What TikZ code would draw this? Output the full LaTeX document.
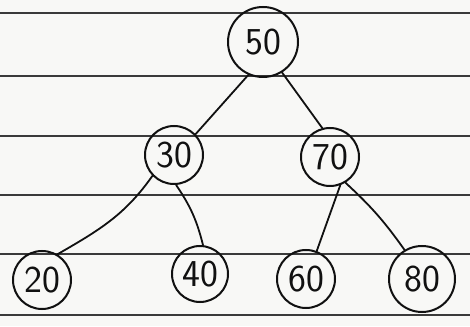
\documentclass[tikz,border=0pt]{standalone}
\usepackage{xcolor}
\definecolor{PaperWhite}{HTML}{F8F8F6}
\definecolor{RuleGray}{HTML}{3A3A3A}
\definecolor{InkBlack}{HTML}{111111}
\usepackage{tikz}
\usetikzlibrary{positioning,calc}

\begin{document}
\begin{tikzpicture}[x=1pt, y=1pt,
    treenode/.style={circle, draw=InkBlack, line width=2pt, inner sep=0pt,
      minimum size=58pt, font=\sffamily\fontsize{38}{38}\selectfont, text=InkBlack},
    treeedge/.style={draw=InkBlack, line width=1.8pt, line cap=round}]
    % Paper and ruled lines
    \fill[PaperWhite] (0,0) rectangle (470,326);
    \useasboundingbox (0,0) rectangle (470,326);
    \foreach \ry in {313,250,190,131,72,11} {
      \draw[RuleGray, line width=1.3pt] (0,\ry) -- (470,\ry);
    }

    % Tree nodes
    \node[treenode, minimum size=70pt] (n50) at (263,284) {50};
    \node[treenode] (n30) at (174,171) {30};
    \node[treenode] (n70) at (330,169) {70};
    \node[treenode] (n20) at (42,46) {20};
    \node[treenode, minimum size=56pt] (n40) at (200,52) {40};
    \node[treenode] (n60) at (306,47) {60};
    \node[treenode, minimum size=66pt] (n80) at (422,47) {80};

    % Edges
    \draw[treeedge] (n50.246) -- (n30.44);
    \draw[treeedge] (n50.302) -- (n70.105);
    \draw[treeedge] (n30.224) to[out=235, in=30] (n20.59);
    \draw[treeedge] (n30.274) to[bend left=10] (n40.84);
    \draw[treeedge] (n70.290) -- (n60.69);
    \draw[treeedge] (n70.301) to[bend left=6] (n80.121);
  \end{tikzpicture}
\end{document}
